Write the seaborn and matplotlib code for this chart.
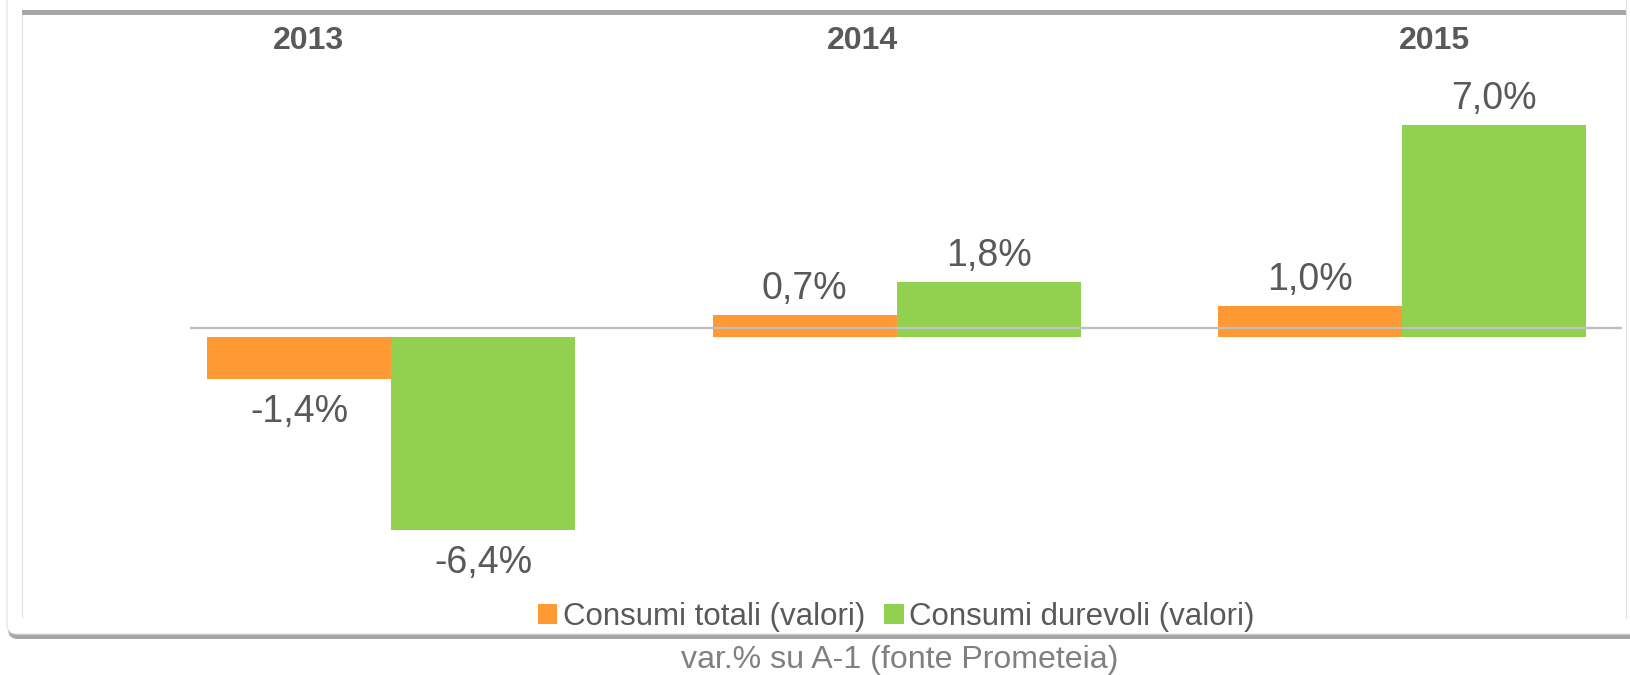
import numpy as np
import pandas as pd
import seaborn as sns
import matplotlib.pyplot as plt
import matplotlib.transforms as mtransforms
from matplotlib.patches import FancyBboxPatch, Rectangle
from matplotlib.lines import Line2D

# ---- data -------------------------------------------------------------
years = ["2013", "2014", "2015"]
series = ["Consumi totali (valori)", "Consumi durevoli (valori)"]
consumi_totali = [-1.4, 0.7, 1.0]
consumi_durevoli = [-6.4, 1.8, 7.0]
caption = "var.% su A-1 (fonte Prometeia)"

df = pd.DataFrame({
    "anno": years * 2,
    "serie": [series[0]] * len(years) + [series[1]] * len(years),
    "valore": consumi_totali + consumi_durevoli,
})

# ---- style ------------------------------------------------------------
ORANGE = "#FF9933"
GREEN = "#92D050"
TEXT = "#595959"
FRAME = "#A6A6A6"
THIN = "#E3E3E3"

sns.set_theme(style="white")
plt.rcParams["font.family"] = ["Liberation Sans", "DejaVu Sans"]

W, H = 1630, 675
DPI = 100
fig = plt.figure(figsize=(W / DPI, H / DPI), dpi=DPI)
fig.patch.set_facecolor("white")

px = mtransforms.IdentityTransform()


def fx(x):
    return x / W


def fy(y):
    return 1 - y / H


# ---- card frame with shadow --------------------------------------------
shadow = FancyBboxPatch((8, H - 639), 1700, 720,
                        boxstyle="round,pad=0,rounding_size=10",
                        fc=FRAME, ec="none", transform=px, zorder=-3)
card = FancyBboxPatch((7, H - 634), 1700, 720,
                      boxstyle="round,pad=0,rounding_size=10",
                      fc="white", ec=THIN, lw=0.9, transform=px, zorder=-2)
top_band = Rectangle((22, H - 15), 1604, 5, fc=FRAME, ec="none",
                     transform=px, zorder=-1)
inner_left = Line2D([22, 22], [H - 15, H - 617], color=THIN, lw=0.9,
                    transform=px, zorder=-1)
inner_right = Line2D([1626, 1626], [H, H - 618], color=THIN, lw=0.9,
                     transform=px, zorder=-1)
for artist in (shadow, card, top_band, inner_left, inner_right):
    fig.add_artist(artist)

# ---- bars ---------------------------------------------------------------
ax = fig.add_axes([fx(190), fy(600), fx(1622) - fx(190), fy(60) - fy(600)])
ax.set_facecolor("none")
sns.barplot(data=df, x="anno", y="valore", hue="serie",
            palette=[ORANGE, GREEN], width=0.728, saturation=1,
            ax=ax, legend=True, errorbar=None, linewidth=0)
ax.set_xlim(-0.3976, 2.435)
ax.set_ylim(-8.725, 9.156)
for s in ax.spines.values():
    s.set_visible(False)
ax.set_xticks([])
ax.set_yticks([])
ax.set_xlabel("")
ax.set_ylabel("")

# horizontal category axis line, drawn slightly above the bars' base
line_tr = ax.get_yaxis_transform() + mtransforms.ScaledTranslation(
    0, 8.5 / DPI, fig.dpi_scale_trans)
ax.plot([0, 1], [0, 0], color="#BFBFBF", lw=1.7, transform=line_tr,
        zorder=5, solid_capstyle="butt")

# value labels
for container, values in zip(ax.containers, [consumi_totali, consumi_durevoli]):
    for bar, v in zip(container.patches, values):
        cx = bar.get_x() + bar.get_width() / 2
        label = f"{v:.1f}".replace(".", ",") + "%"
        dy = 11.5 if v >= 0 else -31.3
        ax.annotate(label, xy=(cx, v), xytext=(0, dy),
                    textcoords="offset points", ha="center", va="baseline",
                    fontsize=27, color=TEXT)

# year headings along the top
year_label_x = [308, 862, 1434]
for x, y_text in zip(year_label_x, years):
    fig.text(fx(x), fy(49), y_text, ha="center", va="baseline",
             fontsize=23, fontweight="bold", color=TEXT)

# legend
handles, labels = ax.get_legend_handles_labels()
ax.get_legend().remove()
fig.legend(handles, labels, loc="center", bbox_to_anchor=(fx(896), fy(617)),
           ncol=2, frameon=False, fontsize=22.5, handlelength=0.63,
           handleheight=0.63, handletextpad=0.17, columnspacing=0.6,
           labelcolor=TEXT, borderpad=0, borderaxespad=0)

# caption below the card
fig.text(fx(900), fy(668), caption, ha="center", va="baseline",
         fontsize=23.1, color="#808080")

fig.savefig("out.png", dpi=DPI, facecolor="white")
